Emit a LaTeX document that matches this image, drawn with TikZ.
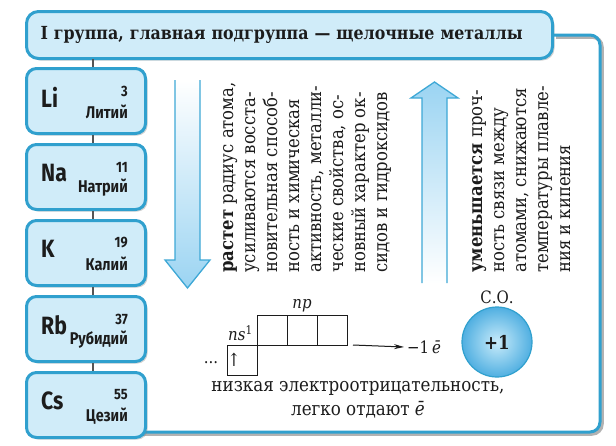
\documentclass[tikz,border=0pt]{standalone}
\usepackage{fontspec}
\setmainfont{DejaVu Serif}[FakeStretch=0.88]
\newfontfamily\elfont{Fira Sans}[FakeStretch=0.85]
\usetikzlibrary{arrows.meta, positioning, calc, shadows}

\definecolor{framebl}{RGB}{48,160,206}
\definecolor{boxbl}{RGB}{208,236,249}
\definecolor{arrowbl}{RGB}{62,168,214}
\definecolor{shadebl}{RGB}{155,212,242}
\definecolor{ink}{RGB}{28,28,28}

\begin{document}
\begin{tikzpicture}[
    x=1pt, y=-1pt,
    titlebox/.style={rectangle, rounded corners=12pt, draw=framebl, line width=3pt, fill=boxbl, drop shadow={shadow xshift=2pt, shadow yshift=-2pt, opacity=.35}, minimum height=47pt, inner xsep=14pt, text width=498pt, align=left, font=\fontsize{18}{20}\selectfont\bfseries, text=ink},
    elem/.style={rectangle, rounded corners=10pt, draw=framebl, line width=3pt, fill=boxbl, drop shadow={shadow xshift=2pt, shadow yshift=-2pt, opacity=.35}, minimum width=119pt, minimum height=65pt},
    sym/.style={anchor=west, inner sep=0pt, font=\elfont\fontsize{25}{25}\selectfont\bfseries, text=ink},
    num/.style={anchor=east, inner sep=0pt, font=\elfont\fontsize{15}{15}\selectfont\bfseries, text=ink},
    ename/.style={anchor=east, inner sep=0pt, font=\elfont\fontsize{17}{17}\selectfont\bfseries, text=ink},
    tick/.style={line width=1.5pt, draw=ink!75},
    panel/.style={line width=3pt, draw=framebl, rounded corners=10pt},
    arrowline/.style={line width=1.3pt, draw=arrowbl, line join=miter},
    column/.style={rotate=90, anchor=north west, align=left, inner sep=0pt, font=\fontsize{18.7}{22}\selectfont, text=ink},
    cell/.style={rectangle, draw=ink, line width=0.9pt, minimum size=30pt, inner sep=0pt, outer sep=0pt},
    orblabel/.style={font=\fontsize{17}{18}\selectfont, text=ink, inner sep=1pt},
    note/.style={align=center, font=\fontsize{19}{24}\selectfont, text=ink}
]
\path[use as bounding box, fill=white] (0,0) rectangle (616,445);

% Title and group frame
\node[titlebox] (title) at (289.5,35) {I группа, главная подгруппа — щелочные металлы};
\coordinate (se) at (600,432);
\draw[panel, line width=3.5pt, draw=black!30, transform canvas={shift={(2pt,-2pt)}}] (title.east) -- (title.east -| se) -- (se) -- (140,432);
\draw[panel] (title.east) -- (title.east -| se) -- (se) -- (140,432);

% Elements
\node[elem] (li) at (86,101) {};
\node[elem, below=8pt of li] (na) {};
\node[elem, below=8pt of na] (k) {};
\node[elem, below=8pt of k] (rb) {};
\node[elem, below=8pt of rb] (cs) {};

\draw[tick] ([xshift=7pt]li.north) -- ++(0,-8);
\draw[tick] ([xshift=7pt]li.south) -- ([xshift=7pt]na.north);
\draw[tick] ([xshift=7pt]na.south) -- ([xshift=7pt]k.north);
\draw[tick] ([xshift=7pt]k.south) -- ([xshift=7pt]rb.north);
\draw[tick] ([xshift=7pt]rb.south) -- ([xshift=7pt]cs.north);

\node[sym] (li_sym) at ([xshift=16pt, yshift=4pt]li.west) {Li};
\node[num] (li_num) at ([xshift=-19pt, yshift=10pt]li.east) {3};
\node[ename] (li_name) at ([xshift=-19pt, yshift=-11pt]li.east) {Литий};

\node[sym] (na_sym) at ([xshift=16pt, yshift=4pt]na.west) {Na};
\node[num] (na_num) at ([xshift=-19pt, yshift=10pt]na.east) {11};
\node[ename] (na_name) at ([xshift=-19pt, yshift=-11pt]na.east) {Натрий};

\node[sym] (k_sym) at ([xshift=16pt, yshift=4pt]k.west) {K};
\node[num] (k_num) at ([xshift=-19pt, yshift=10pt]k.east) {19};
\node[ename] (k_name) at ([xshift=-19pt, yshift=-11pt]k.east) {Калий};

\node[sym] (rb_sym) at ([xshift=16pt, yshift=4pt]rb.west) {Rb};
\node[num] (rb_num) at ([xshift=-19pt, yshift=10pt]rb.east) {37};
\node[ename] (rb_name) at ([xshift=-19pt, yshift=-11pt]rb.east) {Рубидий};

\node[sym] (cs_sym) at ([xshift=16pt, yshift=4pt]cs.west) {Cs};
\node[num] (cs_num) at ([xshift=-19pt, yshift=10pt]cs.east) {55};
\node[ename] (cs_name) at ([xshift=-19pt, yshift=-11pt]cs.east) {Цезий};

% Trend arrows
\shade[top color=white, bottom color=shadebl] (175,80) -- (175,260) -- (165,260) -- (187.5,288) -- (210,260) -- (200,260) -- (200,80) -- cycle;
\draw[arrowline] (175,80) -- (175,260) -- (165,260) -- (187.5,288) -- (210,260) -- (200,260) -- (200,80);
\shade[top color=shadebl, bottom color=white] (422,283) -- (422,98) -- (411,98) -- (434.5,82) -- (458,98) -- (447,98) -- (447,283) -- cycle;
\draw[arrowline] (422,283) -- (422,98) -- (411,98) -- (434.5,82) -- (458,98) -- (447,98) -- (447,283);

% Properties
\node[column] (grow) at (223,273) {\textbf{растет} радиус атома,\\
усиливаются восста-\\
новительная способ-\\
ность и химическая\\
активность, металли-\\
ческие свойства, ос-\\
новный характер ок-\\
сидов и гидроксидов};
\node[column] (fall) at (472,273) {\textbf{уменьшается} проч-\\
ность связи между\\
атомами, снижаются\\
температуры плавле-\\
ния и кипения};

% Electron configuration
\node[cell] (ns) at (242,360) {};
\node[cell, anchor=south west] (np1) at (ns.north east) {};
\node[cell, right=0pt of np1] (np2) {};
\node[cell, right=0pt of np2] (np3) {};
\node[orblabel, anchor=south west] (ns_lbl) at ([yshift=3pt]ns.north west) {\textit{ns}\textsuperscript{1}};
\node[orblabel, above=2pt of np2] (np_lbl) {\textit{np}};
\node[orblabel, font=\fontsize{18}{18}\selectfont] (spin) at ([xshift=-8pt]ns.center) {↑};
\node[orblabel] (dots) at (211,363) {...};
\node[orblabel, anchor=west, inner sep=3pt] (e_lbl) at (404,347) {−1\,\textit{ē}};
\draw[-{Stealth[length=10pt, width=5pt]}, line width=1pt, draw=ink, fill=ink] ([xshift=6pt]np3.south east) -- (e_lbl.west);

% Oxidation state
\node[circle, minimum size=70pt, draw=framebl, line width=1.2pt, inner color={rgb,255:red,200;green,235;blue,250}, outer color={rgb,255:red,80;green,175;blue,225}, font=\fontsize{19}{19}\selectfont\bfseries, text=ink] (ox) at (497,342) {+1};
\node[orblabel, above=1pt of ox] (ox_lbl) {С.О.};

\node[note] (note) at (358,400) {низкая электроотрицательность,\\ легко отдают \textit{ē}};

\end{tikzpicture}
\end{document}
